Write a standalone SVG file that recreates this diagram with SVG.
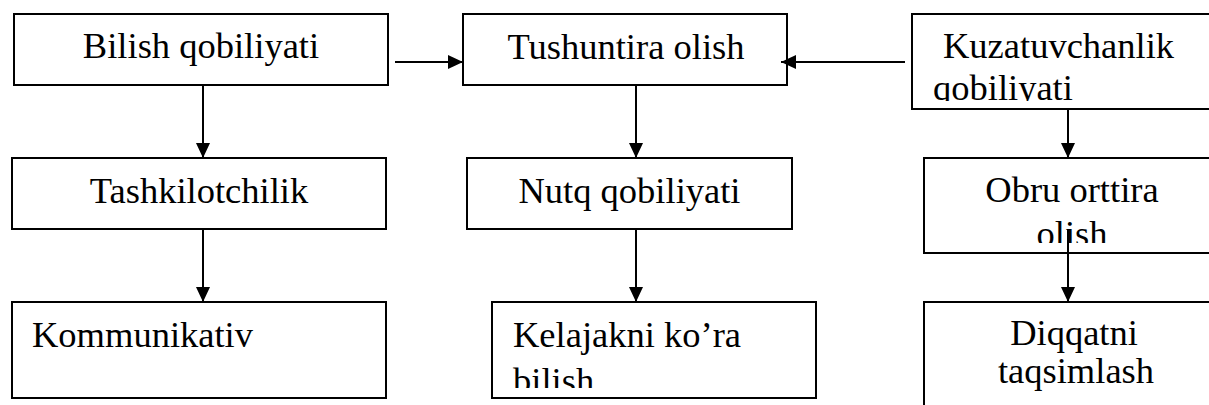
<svg xmlns="http://www.w3.org/2000/svg" width="1209" height="405" viewBox="0 0 1209 405">
<style>
.box{fill:#fff;stroke:#000;stroke-width:2}
.t{font-family:'Liberation Serif','Times New Roman',serif;font-size:36.5px;fill:#000}
.c{text-anchor:middle}
.con{stroke:#000;stroke-width:2;fill:none;marker-end:url(#ah)}
</style>
<defs>
<marker id="ah" markerUnits="userSpaceOnUse" markerWidth="15" markerHeight="14" refX="15" refY="7" orient="auto">
<path d="M0,0 L15,7 L0,14 z" fill="#000"/>
</marker>
<clipPath id="clipK"><rect x="912" y="14" width="300" height="87"/></clipPath>
<clipPath id="clipO"><rect x="924" y="158" width="300" height="85"/></clipPath>
<clipPath id="clipKel"><rect x="492" y="302" width="324" height="86"/></clipPath>
</defs>
<rect width="1209" height="405" fill="#fff"/>
<g id="bilish">
<rect class="box" x="14" y="14" width="374" height="71"/>
<text class="t c" x="201" y="58">Bilish qobiliyati</text>
</g>
<g id="tushuntira">
<rect class="box" x="463" y="14" width="324" height="71"/>
<text class="t c" x="626" y="59">Tushuntira olish</text>
</g>
<g id="kuzatuvchanlik">
<rect class="box" x="912" y="14" width="320" height="95"/>
<text class="t" x="943" y="58">Kuzatuvchanlik</text>
<text class="t" x="933" y="100" clip-path="url(#clipK)">qobiliyati</text>
</g>
<g id="tashkilotchilik">
<rect class="box" x="12" y="158" width="374" height="71"/>
<text class="t c" x="199" y="203">Tashkilotchilik</text>
</g>
<g id="nutq">
<rect class="box" x="467" y="158" width="325" height="71"/>
<text class="t c" x="629.5" y="203">Nutq qobiliyati</text>
</g>
<g id="obru">
<rect class="box" x="924" y="158" width="310" height="95"/>
<text class="t c" x="1072" y="202">Obru orttira</text>
<text class="t c" x="1072" y="246" clip-path="url(#clipO)">olish</text>
</g>
<g id="kommunikativ">
<rect class="box" x="12" y="302" width="374" height="96"/>
<text class="t" x="32" y="347">Kommunikativ</text>
</g>
<g id="kelajakni">
<rect class="box" x="492" y="302" width="324" height="96"/>
<text class="t" x="513" y="347">Kelajakni ko’ra</text>
<text class="t" x="513" y="393" clip-path="url(#clipKel)">bilish</text>
</g>
<g id="diqqatni">
<rect class="box" x="924" y="302" width="310" height="120"/>
<text class="t c" x="1074" y="345">Diqqatni</text>
<text class="t c" x="1076" y="383">taqsimlash</text>
</g>
<g id="connectors">
<line class="con" x1="395" y1="62" x2="463" y2="62"/>
<line class="con" x1="905" y1="62" x2="781" y2="62"/>
<line class="con" x1="203" y1="85" x2="203" y2="158"/>
<line class="con" x1="636" y1="85" x2="636" y2="158"/>
<line class="con" x1="1068" y1="109" x2="1068" y2="158"/>
<line class="con" x1="203" y1="229" x2="203" y2="302"/>
<line class="con" x1="636" y1="229" x2="636" y2="302"/>
<line class="con" x1="1068" y1="230" x2="1068" y2="302"/>
</g>
</svg>
